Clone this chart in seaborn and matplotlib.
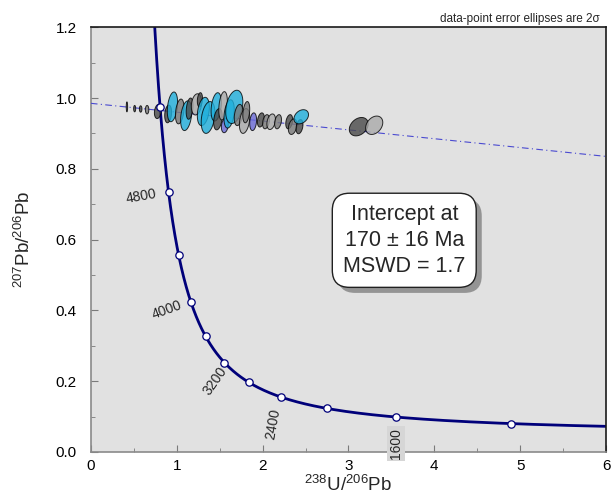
"""
Tera-Wasserburg concordia plot with data-point error ellipses
"""
import numpy as np
import pandas as pd
import matplotlib
matplotlib.use('Agg')
import matplotlib.pyplot as plt
import matplotlib.patheffects as pe
import seaborn as sns

# decay constants (per year) and U ratio
LAMBDA_238 = 1.55125e-10
LAMBDA_235 = 9.8485e-10
U_RATIO = 137.88

# concordia age markers (Ma) and labelled ages
marker_ages = [1200, 1600, 2000, 2400, 2800, 3200, 3600, 4000, 4400, 4800, 5200]
label_ages = [1600, 2400, 3200, 4000, 4800]

# discordia: common-Pb 207/206 intercept and lower-intercept age (Ma)
common_pb = 0.985
intercept_age = 170

# analyses: 238U/206Pb, 207Pb/206Pb, 2-sigma errors, error correlation, group
ell_x = [0.42, 0.51, 0.58, 0.655, 0.78, 0.90, 0.95, 1.035, 1.11, 1.15, 1.23, 1.27,
         1.31, 1.365, 1.46, 1.48, 1.54, 1.56, 1.61, 1.67, 1.72, 1.79, 1.81, 1.89,
         1.98, 2.04, 2.10, 2.18, 2.31, 2.35, 2.43, 2.45, 3.12, 3.30]
ell_y = [0.975, 0.970, 0.969, 0.967, 0.962, 0.955, 0.975, 0.962, 0.950, 0.970, 0.982, 0.995,
         0.962, 0.945, 0.975, 0.940, 0.978, 0.922, 0.955, 0.975, 0.952, 0.935, 0.960, 0.933,
         0.938, 0.933, 0.933, 0.933, 0.933, 0.919, 0.919, 0.947, 0.919, 0.923]
ell_sx = [0.008, 0.012, 0.015, 0.02, 0.04, 0.04, 0.06, 0.05, 0.065, 0.04, 0.06, 0.03,
          0.07, 0.08, 0.06, 0.05, 0.05, 0.04, 0.06, 0.10, 0.05, 0.06, 0.04, 0.04,
          0.04, 0.04, 0.05, 0.04, 0.04, 0.05, 0.04, 0.085, 0.11, 0.10]
ell_sy = [0.014, 0.009, 0.009, 0.012, 0.02, 0.025, 0.042, 0.035, 0.042, 0.03, 0.03, 0.02,
          0.04, 0.045, 0.04, 0.03, 0.04, 0.02, 0.04, 0.047, 0.03, 0.035, 0.03, 0.025,
          0.02, 0.02, 0.022, 0.02, 0.02, 0.022, 0.02, 0.02, 0.026, 0.026]
ell_rho = [0.0, 0.0, 0.0, 0.0, 0.2, 0.2, 0.3, 0.3, 0.3, 0.3, 0.2, 0.2,
           0.3, 0.3, 0.3, 0.3, 0.3, 0.2, 0.3, 0.3, 0.3, 0.3, 0.3, 0.2,
           0.3, 0.3, 0.3, 0.3, 0.3, 0.3, 0.3, 0.3, 0.3, 0.3]
ell_group = ['dark', 'dark', 'dark', 'gray', 'dark', 'dark', 'cyan', 'gray', 'cyan', 'dark', 'lgray', 'dark',
             'cyan', 'cyan', 'cyan', 'dark', 'lgray', 'purple', 'cyan', 'cyan', 'gray', 'lgray', 'gray', 'purple',
             'dark', 'gray', 'lgray', 'gray', 'dark', 'gray', 'dark', 'cyan', 'dark', 'lgray']

group_colors = {'cyan': '#1fb0dc', 'dark': '#4a4a4a', 'gray': '#7a7a7a',
                'lgray': '#ababab', 'purple': '#6a6ad8'}


def tw_point(age_ma):
    """Tera-Wasserburg coordinates for an age in Ma"""
    t = np.asarray(age_ma, dtype=float) * 1e6
    e238 = np.exp(LAMBDA_238 * t) - 1
    e235 = np.exp(LAMBDA_235 * t) - 1
    return 1 / e238, e235 / e238 / U_RATIO


def ellipse_path(cx, cy, sx, sy, rho, n=60):
    th = np.linspace(0, 2 * np.pi, n)
    x = cx + sx * np.cos(th)
    y = cy + sy * (rho * np.cos(th) + np.sqrt(1 - rho ** 2) * np.sin(th))
    return x, y


sns.set_style('ticks')
plt.rcParams['font.family'] = ['Liberation Sans', 'DejaVu Sans']
plt.rcParams['mathtext.fontset'] = 'custom'
plt.rcParams['mathtext.rm'] = 'Liberation Sans'
plt.rcParams['mathtext.it'] = 'Liberation Sans:italic'

fig = plt.figure(figsize=(6.14, 4.95), dpi=100)
ax = fig.add_axes([0.148, 0.087, 0.839, 0.858])
ax.set_facecolor('#e1e1e1')

# concordia curve
ages = np.linspace(900, 5600, 600)
cx, cy = tw_point(ages)
curve = pd.DataFrame({'x': cx, 'y': cy})
sns.lineplot(data=curve, x='x', y='y', sort=False, color='#00007a', lw=2, ax=ax, zorder=2)

# discordia line
x_low, y_low = tw_point(intercept_age)
slope = (y_low - common_pb) / x_low
dx = np.array([0, 6.0])
ax.plot(dx, common_pb + slope * dx, color='#4a4ad0', lw=0.8, ls=(0, (6, 3, 1, 3)), zorder=3)

# error ellipses
for i in range(len(ell_x)):
    ex, ey = ellipse_path(ell_x[i], ell_y[i], ell_sx[i], ell_sy[i], ell_rho[i])
    ax.fill(ex, ey, facecolor=group_colors[ell_group[i]], edgecolor='black',
            lw=0.7, alpha=0.8, zorder=4)

# age markers
mx, my = tw_point(marker_ages)
markers = pd.DataFrame({'x': mx, 'y': my})
sns.scatterplot(data=markers, x='x', y='y', color='white', edgecolor='#00007a',
                s=28, linewidth=0.9, ax=ax, zorder=5)

# age labels (offset in points from the marker, rotation)
label_style = {
    4800: ((-19.5, -3.5), 10),
    4000: ((-17, -6), 20),
    3200: ((-7, -13), 55),
    2400: ((-6, -19), 80),
    1600: ((0, -19), 90),
}
for age in label_ages:
    lx, ly = tw_point(age)
    offset, rot = label_style[age]
    kw = {}
    if age == 1600:
        kw['bbox'] = dict(boxstyle='square,pad=0.15', fc='#d6d6d6', ec='none')
    ax.annotate(str(age), (lx, ly), xytext=offset, textcoords='offset points',
                rotation=rot, ha='center', va='center', fontsize=10,
                rotation_mode='anchor', annotation_clip=False, zorder=6, **kw)

# result box with shadow
box_text = 'Intercept at\n170 \u00b1 16 Ma\nMSWD = 1.7'
res = ax.text(3.65, 0.598, box_text, ha='center', va='center', fontsize=15.5,
              linespacing=1.3, zorder=7,
              bbox=dict(boxstyle='round,pad=0.5,rounding_size=0.8', fc='white',
                        ec='#202020', lw=1.0))
res.get_bbox_patch().set_path_effects([
    pe.SimplePatchShadow(offset=(4, -4), shadow_rgbFace='#8c8c8c', alpha=0.9),
    pe.Normal()])

ax.set_xlim(0, 6)
ax.set_ylim(0, 1.2)
ax.set_xticks(np.arange(0, 7, 1))
ax.set_xticks(np.arange(0, 6.01, 0.5), minor=True)
ax.set_yticks(np.arange(0, 1.21, 0.2))
ax.set_yticks(np.arange(0, 1.21, 0.1), minor=True)
ax.set_yticklabels([f'{v:.1f}' for v in np.arange(0, 1.21, 0.2)])
ax.tick_params(which='both', direction='in', colors='#7a7a7a', labelcolor='black',
               labelsize=11)
ax.tick_params(which='major', length=5)
ax.tick_params(which='minor', length=3)
ax.tick_params(axis='x', pad=5)
ax.tick_params(axis='y', pad=10)

for side in ['left', 'bottom']:
    ax.spines[side].set_color('#8a8a8a')
    ax.spines[side].set_linewidth(1.2)
for side in ['top', 'right']:
    ax.spines[side].set_visible(True)
    ax.spines[side].set_color('#1a1a1a')
    ax.spines[side].set_linewidth(1.2)

ax.set_xlabel(r'$^{238}$U/$^{206}$Pb', fontsize=13.5, labelpad=1.5)
ax.set_ylabel(r'$^{207}$Pb/$^{206}$Pb', fontsize=13.5, labelpad=16)

fig.text(0.977, 0.962, 'data-point error ellipses are 2\u03c3', ha='right', va='center',
         fontsize=8.5)

fig.savefig('out.png', dpi=100)
